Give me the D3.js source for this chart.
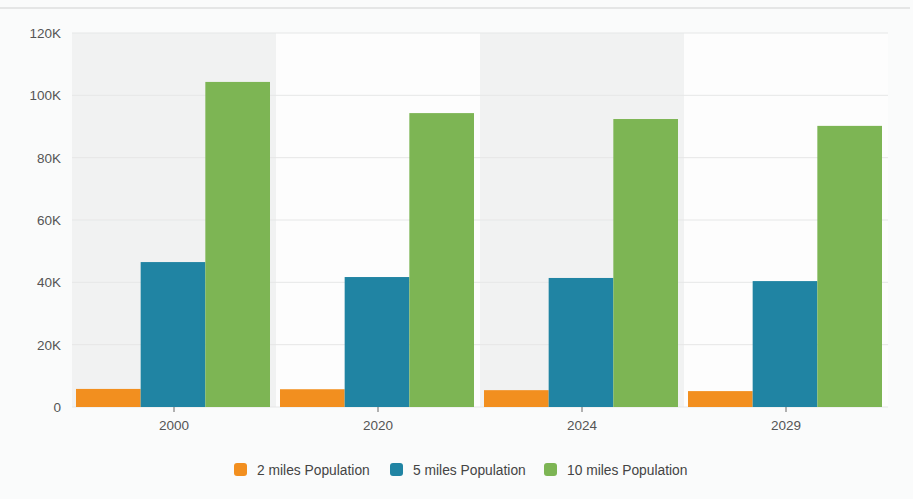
<!DOCTYPE html>
<html>
<head>
<meta charset="utf-8">
<script src="https://cdn.jsdelivr.net/npm/d3@7"></script>
<style>
  body { margin: 0; background: #fafbfb; }
  svg { display: block; font-family: "Liberation Sans", Arial, sans-serif; }
</style>
</head>
<body>
<svg id="chart" width="913" height="499"></svg>
<script>
var years = ["2000", "2020", "2024", "2029"];
var seriesNames = ["2 miles Population", "5 miles Population", "10 miles Population"];
var seriesColors = ["#f28f1f", "#2084a3", "#7db554"];
var twoMiles = [5800, 5700, 5400, 5100];
var fiveMiles = [46500, 41700, 41400, 40400];
var tenMiles = [104300, 94300, 92400, 90200];
var yTicks = [0, 20000, 40000, 60000, 80000, 100000, 120000];

var values = [twoMiles, fiveMiles, tenMiles];
var margin = {top: 33, left: 72, right: 25, bottom: 92};
var width = 913, height = 499;

var svg = d3.select("#chart");

// thin rule across the top of the card
svg.append("line").attr("x1", 0).attr("x2", 910).attr("y1", 8).attr("y2", 8)
  .attr("stroke", "#dedfdf").attr("stroke-width", 1.5);

var x0 = d3.scaleBand().domain(years).range([margin.left, width - margin.right]);
var x1 = d3.scaleBand().domain(d3.range(seriesNames.length)).range([4, x0.bandwidth() - 6]);
var y = d3.scaleLinear().domain([0, 120000]).range([height - margin.bottom, margin.top]);

// alternating band backgrounds
svg.selectAll("rect.band").data(years).enter().append("rect")
  .attr("class", "band")
  .attr("x", function(d){ return x0(d); })
  .attr("y", y(120000))
  .attr("width", x0.bandwidth())
  .attr("height", y(0) - y(120000))
  .attr("fill", function(d, i){ return i % 2 == 0 ? "#f1f2f2" : "#fdfdfd"; });

// gridlines + y labels
svg.selectAll("line.grid").data(yTicks).enter().append("line")
  .attr("class", "grid")
  .attr("x1", margin.left).attr("x2", width - margin.right)
  .attr("y1", function(d){ return y(d); }).attr("y2", function(d){ return y(d); })
  .attr("stroke", "#e6e7e7").attr("stroke-width", 1);

svg.selectAll("text.ylab").data(yTicks).enter().append("text")
  .attr("class", "ylab")
  .attr("x", 61).attr("y", function(d){ return y(d) + 5; })
  .attr("text-anchor", "end").attr("font-size", 13.5).attr("fill", "#555")
  .text(function(d){ return d == 0 ? "0" : (d / 1000) + "K"; });

// bars
var groups = svg.selectAll("g.year").data(years).enter().append("g")
  .attr("class", "year")
  .attr("transform", function(d){ return "translate(" + x0(d) + ",0)"; });

groups.selectAll("rect").data(function(d, i){
    return values.map(function(s, k){ return {k: k, v: s[i]}; });
  }).enter().append("rect")
  .attr("x", function(d){ return x1(d.k); })
  .attr("y", function(d){ return y(d.v); })
  .attr("width", x1.bandwidth())
  .attr("height", function(d){ return y(0) - y(d.v); })
  .attr("fill", function(d){ return seriesColors[d.k]; });

// x axis
var xAxis = svg.append("g")
  .attr("transform", "translate(0," + y(0) + ")")
  .call(d3.axisBottom(x0).tickSize(5).tickPadding(8));
xAxis.select(".domain").remove();
xAxis.selectAll("line").attr("stroke", "#666");
xAxis.selectAll("text").attr("font-size", 13.5).attr("fill", "#555")
  .attr("font-family", "Liberation Sans, Arial, sans-serif");

// legend
var legendX = [234, 390, 544];
var legend = svg.selectAll("g.legend").data(seriesNames).enter().append("g")
  .attr("class", "legend")
  .attr("transform", function(d, i){ return "translate(" + legendX[i] + ",463)"; });
legend.append("rect").attr("width", 13).attr("height", 13).attr("rx", 3)
  .attr("fill", function(d, i){ return seriesColors[i]; });
legend.append("text").attr("x", 23).attr("y", 11.5).attr("font-size", 13.8).attr("fill", "#444")
  .text(function(d){ return d; });
</script>
</body>
</html>
